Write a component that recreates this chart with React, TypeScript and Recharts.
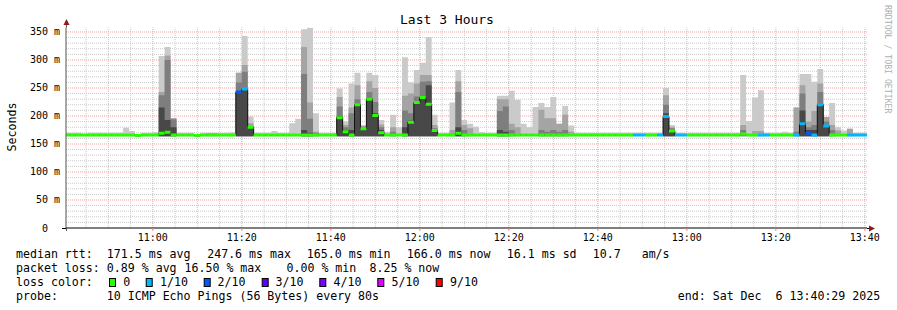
import {
  Area,
  ComposedChart,
  Line,
  ReferenceLine,
  XAxis,
  YAxis,
} from "recharts";

// time is in minutes of the day; the graph covers 10:40:29 .. 13:40:29
const START = 10 * 60 + 40 + 29 / 60;
const END = START + 180;
const FIRST_STEP = 10 * 60 + 39 + 59 / 60; // 80 s rrd steps
const STEP_MIN = 80 / 60;

// median rtt per step, ms
const median = [
  166, 166, 166, 166, 166, 166, 166, 166, 166, 166,
  166, 166, 165, 166, 166, 166, 169, 171, 166, 166,
  166, 166, 165, 166, 166, 166, 166, 166, 166, 243,
  248, 180, 166, 166, 166, 166, 166, 166, 166, 166,
  166, 166, 166, 166, 166, 166, 197, 172, 166, 220,
  177, 230, 201, 170, 166, 166, 166, 166, 189, 224,
  233, 221, 174, 166, 166, 166, 169, 166, 166, 166,
  166, 166, 166, 166, 166, 166, 166, 166, 166, 166,
  166, 166, 166, 166, 166, 166, 166, 166, 166, 166,
  166, 166, 166, 166, 166, 166, 166, 166, 166, 166,
  166, 199, 173, 166, 166, 166, 166, 166, 166, 166,
  166, 166, 166, 166, 168, 166, 166, 166, 166, 166,
  166, 166, 166, 166, 186, 169, 166, 220, 182, 166,
  166, 166, 166, 166, 166, 166,
];

// lost pings out of 10
const loss = [
  0, 0, 0, 0, 0, 0, 0, 0, 0, 0,
  0, 0, 0, 0, 0, 0, 0, 0, 0, 0,
  0, 0, 0, 0, 0, 0, 0, 0, 0, 2,
  1, 0, 0, 0, 0, 0, 0, 0, 0, 0,
  0, 0, 0, 0, 0, 0, 0, 0, 0, 0,
  0, 0, 0, 0, 0, 0, 0, 0, 0, 0,
  0, 0, 0, 0, 0, 0, 0, 0, 0, 0,
  0, 0, 0, 0, 0, 0, 0, 0, 0, 0,
  0, 0, 0, 0, 0, 0, 0, 0, 0, 0,
  0, 0, 0, 0, 0, 0, 1, 1, 0, 0,
  1, 1, 0, 1, 1, 0, 0, 0, 0, 0,
  0, 0, 0, 0, 0, 0, 0, 1, 1, 0,
  0, 0, 0, 1, 1, 2, 1, 1, 1, 0,
  0, 0, 1, 1, 1, 1,
];

// smoke: top of each grey layer, lightest (max ping) to darkest; 0 = no layer
const smokeMax = [
  170, 170, 170, 166, 170, 170, 170, 170, 170, 170,
  179, 173, 165, 170, 170, 171, 307, 323, 196, 170,
  170, 170, 165, 170, 170, 170, 170, 170, 171, 277,
  343, 199, 170, 170, 170, 173, 170, 170, 187, 195,
  355, 357, 205, 170, 170, 170, 249, 190, 258, 277,
  184, 277, 273, 193, 172, 202, 180, 305, 260, 282,
  295, 341, 202, 170, 170, 224, 282, 193, 186, 181,
  171, 170, 170, 236, 236, 245, 229, 186, 180, 216,
  223, 216, 234, 186, 218, 183, 170, 170, 170, 170,
  170, 170, 170, 170, 170, 170, 170, 170, 170, 170,
  170, 250, 184, 170, 170, 170, 170, 170, 170, 170,
  170, 170, 170, 170, 273, 191, 233, 246, 170, 170,
  170, 172, 170, 215, 275, 275, 261, 284, 198, 223,
  180, 174, 177, 170, 170, 170,
];

const smoke2 = [
  0, 0, 0, 0, 0, 0, 0, 0, 0, 0,
  0, 0, 0, 0, 0, 0, 243, 308, 196, 0,
  0, 0, 0, 0, 169, 169, 0, 0, 0, 277,
  291, 187, 0, 0, 0, 0, 0, 0, 0, 0,
  323, 224, 172, 0, 0, 0, 234, 184, 215, 255,
  182, 262, 250, 185, 0, 180, 0, 236, 240, 258,
  273, 273, 184, 0, 0, 175, 262, 184, 178, 0,
  0, 0, 0, 230, 230, 186, 180, 0, 0, 0,
  211, 196, 196, 186, 202, 172, 0, 0, 0, 0,
  0, 0, 0, 0, 0, 0, 0, 0, 0, 0,
  0, 237, 180, 0, 0, 0, 0, 0, 0, 0,
  0, 0, 0, 0, 184, 0, 173, 173, 0, 0,
  0, 0, 0, 215, 255, 190, 209, 258, 198, 184,
  174, 0, 177, 0, 0, 0,
];

const smoke3 = [
  0, 0, 0, 0, 0, 0, 0, 0, 0, 0,
  0, 0, 0, 0, 0, 0, 237, 300, 194, 0,
  0, 0, 0, 0, 0, 0, 0, 0, 0, 260,
  279, 182, 0, 0, 0, 0, 0, 0, 0, 0,
  275, 195, 170, 0, 0, 0, 217, 180, 205, 230,
  180, 243, 225, 180, 0, 172, 0, 210, 205, 235,
  261, 262, 178, 0, 0, 0, 243, 175, 0, 0,
  0, 0, 0, 209, 217, 175, 0, 0, 0, 0,
  175, 172, 175, 172, 175, 0, 0, 0, 0, 0,
  0, 0, 0, 0, 0, 0, 0, 0, 0, 0,
  0, 220, 178, 0, 0, 0, 0, 0, 0, 0,
  0, 0, 0, 0, 175, 0, 0, 0, 0, 0,
  0, 0, 0, 172, 240, 180, 184, 243, 190, 175,
  0, 0, 0, 0, 0, 0,
];

const smoke4 = [
  0, 0, 0, 0, 0, 0, 0, 0, 0, 0,
  0, 0, 0, 0, 0, 0, 215, 193, 180, 0,
  0, 0, 0, 0, 0, 0, 0, 0, 0, 243,
  248, 180, 0, 0, 0, 0, 0, 0, 0, 0,
  175, 170, 0, 0, 0, 0, 200, 175, 175, 222,
  178, 232, 205, 175, 0, 0, 0, 180, 192, 226,
  235, 255, 176, 0, 0, 0, 180, 0, 0, 0,
  0, 0, 0, 175, 172, 0, 0, 0, 0, 0,
  0, 0, 0, 0, 0, 0, 0, 0, 0, 0,
  0, 0, 0, 0, 0, 0, 0, 0, 0, 0,
  0, 205, 175, 0, 0, 0, 0, 0, 0, 0,
  0, 0, 0, 0, 0, 0, 0, 0, 0, 0,
  0, 0, 0, 0, 210, 175, 175, 222, 183, 0,
  0, 0, 0, 0, 0, 0,
];

const SMOKE_FLOOR = 164;

const xTicks = [660, 680, 700, 720, 740, 760, 780, 800, 820];
const yTicks = [0, 50, 100, 150, 200, 250, 300, 350];
const minorX = Array.from({ length: 36 }, (_, i) => 645 + i * 5).filter(
  (v) => v % 20 !== 0
);
const minorY = Array.from({ length: 35 }, (_, i) => 10 + i * 10).filter(
  (v) => v % 50 !== 0
);

const lossColors = [
  "#26ff00", "#00b8ff", "#0059ff", "#5e00ff", "#7e00ff", "#dd00ff",
  "#ff0000", "#ff0000", "#ff0000", "#ff0000", "#ff0000",
];

const legendLoss = [
  { label: "0", color: "#26ff00", box: 109, text: 123.3 },
  { label: "1/10", color: "#00b8ff", box: 145.7, text: 160 },
  { label: "2/10", color: "#0059ff", box: 203.7, text: 217.6 },
  { label: "3/10", color: "#5e00ff", box: 261.7, text: 275.6 },
  { label: "4/10", color: "#7e00ff", box: 319.3, text: 333.6 },
  { label: "5/10", color: "#dd00ff", box: 377.3, text: 391.6 },
  { label: "9/10", color: "#ff0000", box: 435.7, text: 450 },
];

const layer = (v: number) => [SMOKE_FLOOR, Math.max(SMOKE_FLOOR, v)];

const rows = median.map((m, i) => ({
  t: FIRST_STEP + i * STEP_MIN,
  med: m,
  loss: loss[i],
  s1: layer(smokeMax[i]),
  s2: layer(smoke2[i]),
  s3: layer(smoke3[i]),
  s4: layer(smoke4[i]),
}));
// closing point so the last step is drawn to its end
const chartData = [
  ...rows,
  { ...rows[rows.length - 1], t: FIRST_STEP + rows.length * STEP_MIN },
];

const MONO = '"DejaVu Sans Mono", monospace';

const hhmm = (v: number) =>
  `${Math.floor(v / 60)}:${String(Math.round(v % 60)).padStart(2, "0")}`;

function YTick({ x, y, payload }: any) {
  const label = payload.value === 0 ? "0  " : `${payload.value} m`;
  return (
    <text
      x={x}
      y={y}
      dy="0.35em"
      textAnchor="end"
      fontSize={10}
      fontFamily={MONO}
      fill="#000"
      xmlSpace="preserve"
      style={{ whiteSpace: "pre" }}
    >
      {label}
    </text>
  );
}

function Txt({ x, y, children, ...rest }: any) {
  return (
    <text
      x={x}
      y={y}
      fontSize={11.6}
      fontFamily={MONO}
      fill="#000"
      xmlSpace="preserve"
      style={{ whiteSpace: "pre" }}
      {...rest}
    >
      {children}
    </text>
  );
}

export default function App() {
  return (
    <div
      style={{
        position: "absolute",
        left: 0,
        top: 0,
        width: 897,
        height: 310,
        background: "#fff",
      }}
    >
      <ComposedChart
        width={897}
        height={310}
        data={chartData}
        margin={{ top: 27.5, right: 30, left: 6, bottom: 62 }}
        style={{ fontFamily: MONO }}
      >
        <XAxis
          type="number"
          dataKey="t"
          domain={[START, END]}
          allowDataOverflow
          ticks={xTicks}
          tickFormatter={hhmm}
          height={20}
          tick={{ fontSize: 10, fill: "#000", fontFamily: MONO }}
          axisLine={{ stroke: "#000" }}
          tickLine={{ stroke: "#f08080" }}
          tickSize={3}
          tickMargin={3}
        />
        <YAxis
          type="number"
          domain={[0, 358]}
          allowDataOverflow
          ticks={yTicks}
          width={60}
          tick={<YTick />}
          tickSize={2}
          tickMargin={4}
          tickLine={false}
          axisLine={{ stroke: "#555" }}
        />

        {/* grid sits behind the smoke, as in rrdtool */}
        {minorX.map((v) => (
          <ReferenceLine key={`mx${v}`} x={v} stroke="#c8c8c8" strokeDasharray="1 1" zIndex={50} />
        ))}
        {minorY.map((v) => (
          <ReferenceLine key={`my${v}`} y={v} stroke="#c8c8c8" strokeDasharray="1 1" zIndex={50} />
        ))}
        {xTicks.map((v) => (
          <ReferenceLine key={`Mx${v}`} x={v} stroke="#f2a0a0" strokeDasharray="1 1" zIndex={50} />
        ))}
        {yTicks.slice(1).map((v) => (
          <ReferenceLine key={`My${v}`} y={v} stroke="#f2a0a0" strokeDasharray="1 1" zIndex={50} />
        ))}

        <Area type="stepAfter" dataKey="s1" fill="#cacaca" fillOpacity={1} stroke="none" dot={false} activeDot={false} isAnimationActive={false} />
        <Area type="stepAfter" dataKey="s2" fill="#a4a4a4" fillOpacity={1} stroke="none" dot={false} activeDot={false} isAnimationActive={false} />
        <Area type="stepAfter" dataKey="s3" fill="#7e7e7e" fillOpacity={1} stroke="none" dot={false} activeDot={false} isAnimationActive={false} />
        <Area type="stepAfter" dataKey="s4" fill="#484848" fillOpacity={1} stroke="none" dot={false} activeDot={false} isAnimationActive={false} />

        <Line
          type="stepAfter"
          dataKey="med"
          stroke="#111"
          strokeWidth={1}
          dot={false}
          activeDot={false}
          isAnimationActive={false}
        />
        {rows.map((r) => (
          <ReferenceLine
            key={`m${r.t}`}
            segment={[
              { x: r.t, y: r.med },
              { x: r.t + STEP_MIN, y: r.med },
            ]}
            stroke={lossColors[r.loss]}
            strokeWidth={3}
            ifOverflow="hidden"
            zIndex={450}
          />
        ))}
      </ComposedChart>

      <svg
        width={897}
        height={310}
        style={{ position: "absolute", left: 0, top: 0, pointerEvents: "none" }}
      >
        <text x={447} y={24} textAnchor="middle" fontSize={13} fontFamily={MONO} fill="#000">
          Last 3 Hours
        </text>
        <text
          transform="translate(15.5,127) rotate(-90)"
          textAnchor="middle"
          fontSize={11.6}
          fontFamily={MONO}
          fill="#000"
        >
          Seconds
        </text>
        <text
          transform="translate(885,5) rotate(90)"
          fontSize={8.2}
          fontFamily={MONO}
          fill="#b0b0b0"
        >
          RRDTOOL / TOBI OETIKER
        </text>

        {/* axis ends with arrows */}
        <line x1={66.5} y1={27.5} x2={66.5} y2={24} stroke="#555" />
        <line x1={66.5} y1={228} x2={66.5} y2={231} stroke="#555" />
        <path d="M66.5 19 L63.5 25 L69.5 25 Z" fill="#8b1a1a" />
        <line x1={62} y1={228.5} x2={66} y2={228.5} stroke="#000" />
        <line x1={867} y1={228.5} x2={870} y2={228.5} stroke="#000" />
        <path d="M875 228.5 L869 225.5 L869 231.5 Z" fill="#8b1a1a" />

        <Txt x={16} y={258}>median rtt:</Txt>
        <Txt x={106.8} y={258}>171.5 ms avg</Txt>
        <Txt x={207.2} y={258}>247.6 ms max</Txt>
        <Txt x={306.8} y={258}>165.0 ms min</Txt>
        <Txt x={406.8} y={258}>166.0 ms now</Txt>
        <Txt x={506.8} y={258}>16.1 ms sd</Txt>
        <Txt x={592.8} y={258}>10.7   am/s</Txt>

        <Txt x={16} y={272}>packet loss:</Txt>
        <Txt x={106.8} y={272}>0.89 % avg</Txt>
        <Txt x={184.5} y={272}>16.50 % max</Txt>
        <Txt x={286.5} y={272}>0.00 % min</Txt>
        <Txt x={369.5} y={272}>8.25 % now</Txt>

        <Txt x={16} y={286}>loss color:</Txt>
        {legendLoss.map((l) => (
          <g key={l.label}>
            <rect x={l.box + 0.5} y={278.5} width={6} height={8} fill={l.color} stroke="#000" strokeWidth={1} />
            <Txt x={l.text} y={286}>{l.label}</Txt>
          </g>
        ))}

        <Txt x={16} y={300}>probe:</Txt>
        <Txt x={106.8} y={300}>10 ICMP Echo Pings (56 Bytes) every 80s</Txt>
        <Txt x={677.8} y={300}>end: Sat Dec  6 13:40:29 2025</Txt>
      </svg>
    </div>
  );
}
